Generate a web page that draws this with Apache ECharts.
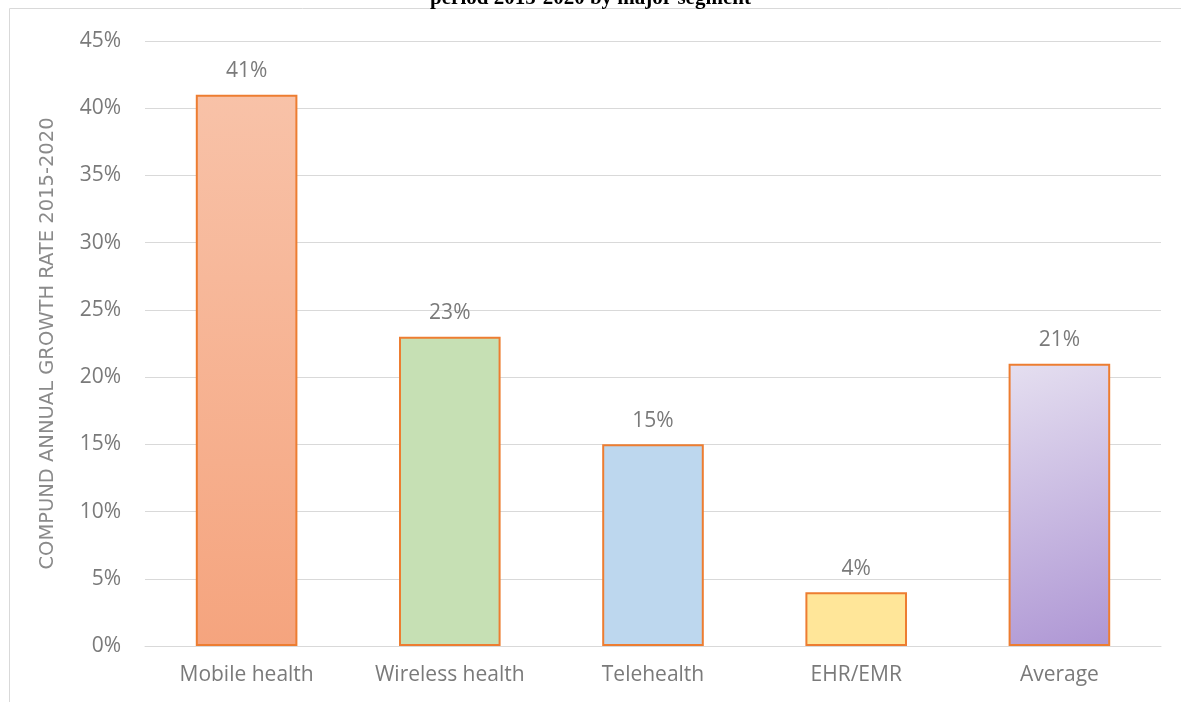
<!DOCTYPE html>
<html><head><meta charset="utf-8">
<script src="https://cdn.jsdelivr.net/npm/echarts@6/dist/echarts.min.js"></script>
<style>html,body{margin:0;padding:0;background:#fff}#c{width:1181px;height:702px}</style>
</head><body><div id="c"></div>
<script>
const categories = ['Mobile health','Wireless health','Telehealth','EHR/EMR','Average'];
const values = [41, 23, 15, 4, 21];
const yTicks = [0,5,10,15,20,25,30,35,40,45];
const titleText = 'period 2015-2020 by major segment';
const yAxisName = 'COMPUND ANNUAL GROWTH RATE 2015-2020';

const G = echarts.graphic;
const fills = [
  new G.LinearGradient(0,0,0,1,[{offset:0,color:'#F8C2A8'},{offset:1,color:'#F5A47E'}]),
  '#C6E0B4',
  '#BDD7EE',
  '#FFE699',
  new G.LinearGradient(0,0,1,1,[{offset:0,color:'#E5DFF0'},{offset:1,color:'#AE96D4'}])
];
const font = '"Open Sans", "Noto Sans", sans-serif';
const txt = '#7A7A7A';
const chart = echarts.init(document.getElementById('c'));
chart.setOption({
  animation:false,
  title:{text:titleText,left:'center',top:-17,textStyle:{fontFamily:'"Liberation Serif", serif',fontWeight:'bold',fontSize:21,color:'#000'}},
  graphic:[{type:'rect',shape:{x:9.5,y:8.5,width:1200,height:720},style:{fill:null,stroke:'#D9D9D9',lineWidth:1},z:-1}],
  grid:{left:145,right:20,top:41,bottom:56,containLabel:false},
  xAxis:{type:'category',data:categories,axisTick:{show:false},
    axisLine:{lineStyle:{color:'#D9D9D9',width:1}},
    axisLabel:{color:txt,fontSize:21,fontFamily:font,margin:19}},
  yAxis:{type:'value',min:yTicks[0],max:yTicks[yTicks.length-1],interval:5,
    name:yAxisName,nameLocation:'middle',nameGap:87,nameRotate:90,
    nameTextStyle:{color:'#8A8A8A',fontSize:19.5,fontFamily:'"DejaVu Sans", sans-serif'},
    axisLabel:{color:txt,fontSize:21,fontFamily:font,margin:24,formatter:v=>v+'%'},
    splitLine:{lineStyle:{color:'#D9D9D9',width:1}},
    axisLine:{show:false},axisTick:{show:false}},
  series:[{type:'bar',barWidth:'50%',
    data:values.map((v,i)=>({value:v,itemStyle:{color:fills[i]}})),
    itemStyle:{borderColor:'#ED7D31',borderWidth:2},
    label:{show:true,position:'top',distance:13,color:txt,fontSize:21,fontFamily:font,formatter:p=>p.value+'%'}
  }]
});
</script></body></html>
